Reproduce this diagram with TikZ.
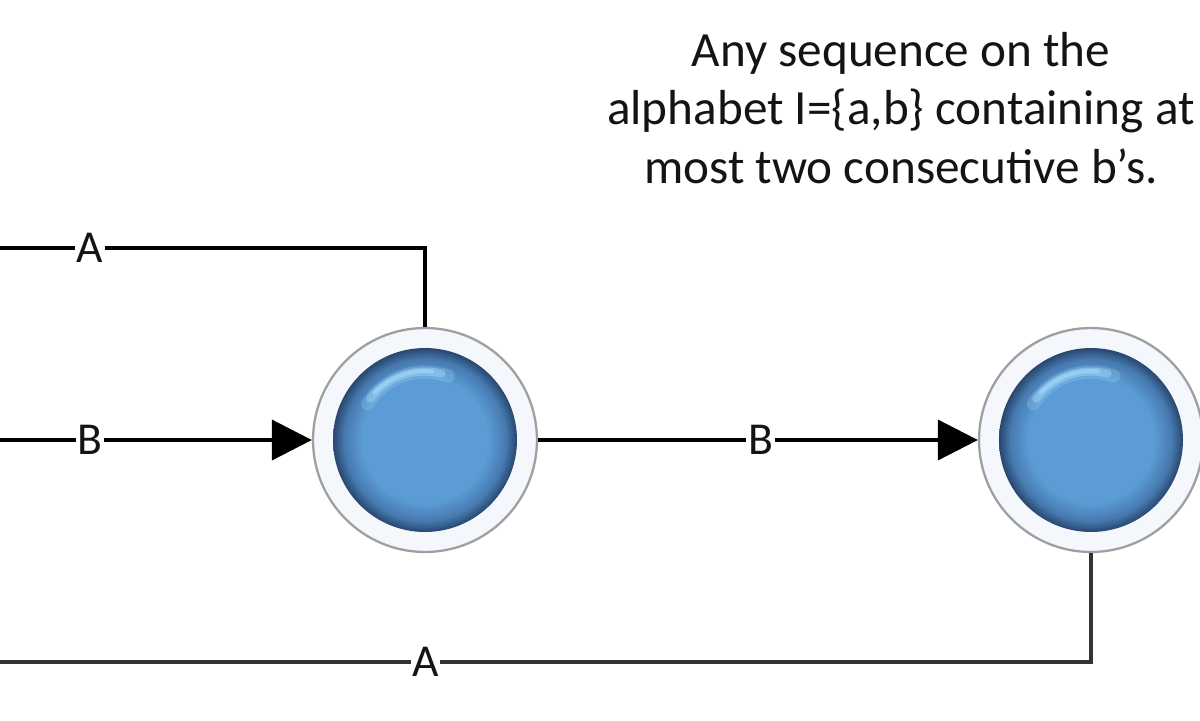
\documentclass[tikz,border=0pt]{standalone}
\usepackage{fontspec}
\setmainfont{Carlito}
\usetikzlibrary{arrows.meta}
\definecolor{ballmid}{RGB}{92,156,214}
\definecolor{ballrim}{RGB}{70,122,176}
\definecolor{balledge}{RGB}{40,70,110}
\definecolor{ringfill}{RGB}{244,247,251}
\definecolor{hilite}{RGB}{165,218,252}
\definecolor{txt}{RGB}{20,20,20}
\pgfdeclareradialshading{sphereshade}{\pgfpoint{0bp}{0bp}}{color(0bp)=(ballmid); color(17bp)=(ballmid); color(22bp)=(ballrim); color(25bp)=(balledge); color(50bp)=(balledge)}
\newcommand{\myball}[1]{%
  \shade[shading=sphereshade] (#1.center) circle (1.84cm);
  \draw[hilite, line width=0.26cm, opacity=0.25, line cap=round] ([shift={(148:1.36cm)}]#1.center) arc[start angle=148, end angle=70, radius=1.36cm];
  \draw[hilite, line width=0.16cm, opacity=0.45, line cap=round] ([shift={(143:1.37cm)}]#1.center) arc[start angle=143, end angle=76, radius=1.37cm];
  \draw[hilite, line width=0.08cm, opacity=0.6, line cap=round] ([shift={(137:1.38cm)}]#1.center) arc[start angle=137, end angle=84, radius=1.38cm];
}
\begin{document}
\begin{tikzpicture}[x=0.02cm,y=-0.02cm,
  state/.style={circle, minimum size=4.48cm, inner sep=0pt, draw=gray!75, line width=1.3pt, fill=ringfill},
  conn/.style={line width=2.1pt, draw=black},
  arr/.style={conn, -{Triangle[length=0.8cm,width=0.8cm]}},
  lbl/.style={fill=white, inner sep=1pt, text=txt, font=\fontsize{26}{30}\selectfont}
]
\useasboundingbox (0,0) rectangle (1200,720);
\fill[white] (0,0) rectangle (1200,720);

\node[align=center, text=txt, font=\fontsize{28}{33.5}\selectfont] (title) at (901,108)
  {Any sequence on the\\ alphabet I=\{a,b\} containing at\\ most two consecutive b's.};

\node[state] (n1) at (425,440) {};
\node[state] (n2) at (1091,440) {};
\myball{n1}
\myball{n2}

\coordinate (topL) at (0,248);
\coordinate (midL) at (0,440);
\coordinate (botL) at (0,662);

\draw[conn] (topL) -| (n1.north) node[lbl, pos=0.106] {A};
\draw[arr] (midL) -- (n1.west) node[lbl, pos=0.288] {B};
\draw[arr] (n1.east) -- (n2.west) node[lbl, pos=0.506] {B};
\draw[conn, draw=black!80, line width=2.4pt] (n2.south) |- (botL) node[lbl, pos=0.805] {A};
\end{tikzpicture}
\end{document}
